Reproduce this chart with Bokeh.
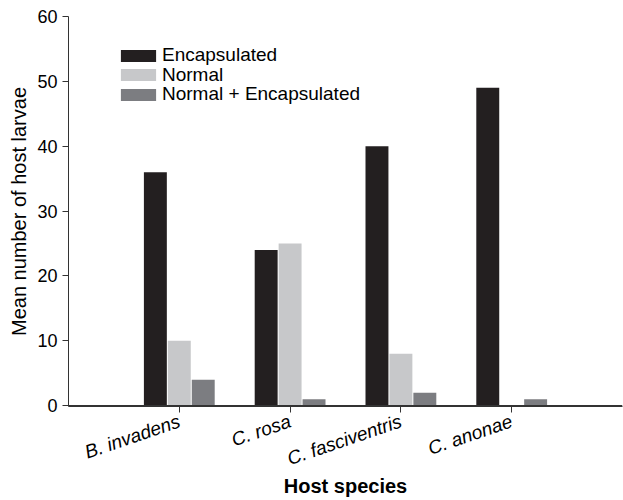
from bokeh.plotting import figure
from bokeh.models import ColumnDataSource, FixedTicker, Legend, LegendItem, Range1d
from bokeh.transform import dodge
from bokeh.embed import file_html
from bokeh.resources import INLINE

species = ["B. invadens", "C. rosa", "C. fasciventris", "C. anonae"]
encapsulated = [36, 24, 40, 49]
normal = [10, 25, 8, 0]
normal_encap = [4, 1, 2, 1]
y_ticks = [0, 10, 20, 30, 40, 50, 60]
series_labels = ["Encapsulated", "Normal", "Normal + Encapsulated"]

xpos = list(range(1, len(species) + 1))
src = ColumnDataSource(dict(x=xpos, enc=encapsulated, nor=normal, both=normal_encap))

FONT = "Liberation Sans"
X0, X1 = 0, len(species) + 1

p = figure(width=623, height=500, output_backend="svg", toolbar_location=None,
           x_range=Range1d(X0, X1), y_range=Range1d(-0.12, 60))
p.min_border_left = 68
p.min_border_right = 1
p.min_border_top = 16
p.min_border_bottom = 94
p.outline_line_color = None
p.xgrid.visible = False
p.ygrid.visible = False
p.background_fill_color = "white"
p.border_fill_color = "white"

w = 0.207
off = 0.216
r1 = p.vbar(x=dodge("x", -off), top="enc", width=w, source=src, fill_color="#231f20", line_color=None)
r2 = p.vbar(x="x", top="nor", width=w, source=src, fill_color="#c7c8ca", line_color=None)
r3 = p.vbar(x=dodge("x", off), top="both", width=w, source=src, fill_color="#7c7d81", line_color=None)

# x axis baseline across the full range
p.segment(x0=[X0], y0=[0], x1=[X1], y1=[0], line_color="#333333", line_width=1.3)

for lab, rend, ly in zip(series_labels, [r1, r2, r3], [340, 320.5, 301]):
    lg = Legend(items=[LegendItem(label=lab, renderers=[rend])], location=(48, ly))
    lg.glyph_width = 44
    lg.glyph_height = 15
    lg.label_height = 19
    lg.spacing = 0
    lg.padding = 0
    lg.margin = 0
    lg.label_standoff = 2
    lg.border_line_color = None
    lg.background_fill_alpha = 0
    lg.label_text_font = FONT
    lg.label_text_font_size = "19px"
    lg.label_text_color = "black"
    p.add_layout(lg, "center")

xa = p.xaxis[0]
xa.ticker = FixedTicker(ticks=xpos)
xa.major_label_overrides = {float(x): s for x, s in zip(xpos, species)}
xa.major_label_orientation = 0.33
xa.major_label_text_font = FONT
xa.major_label_text_font_style = "italic"
xa.major_label_text_font_size = "19px"
xa.major_label_text_color = "black"
xa.major_label_standoff = 8
xa.major_tick_out = 6
xa.major_tick_in = 0
xa.minor_tick_line_color = None
xa.axis_line_color = "#333333"
xa.major_tick_line_color = "#333333"
xa.axis_label = "Host species"
xa.axis_label_text_font = FONT
xa.axis_label_text_font_style = "bold"
xa.axis_label_text_font_size = "20px"
xa.axis_label_text_color = "black"
xa.axis_label_standoff = -7

ya = p.yaxis[0]
ya.ticker = FixedTicker(ticks=y_ticks)
ya.major_label_text_font = FONT
ya.major_label_text_font_size = "18px"
ya.major_label_text_color = "black"
ya.major_label_standoff = 5
ya.major_tick_out = 6
ya.major_tick_in = 0
ya.minor_tick_line_color = None
ya.axis_line_color = "#333333"
ya.major_tick_line_color = "#333333"
ya.axis_label = "Mean number of host larvae"
ya.axis_label_text_font = FONT
ya.axis_label_text_font_style = "normal"
ya.axis_label_text_font_size = "20px"
ya.axis_label_text_color = "black"
ya.axis_label_standoff = 4

open("out.html", "w").write(file_html(p, INLINE))
